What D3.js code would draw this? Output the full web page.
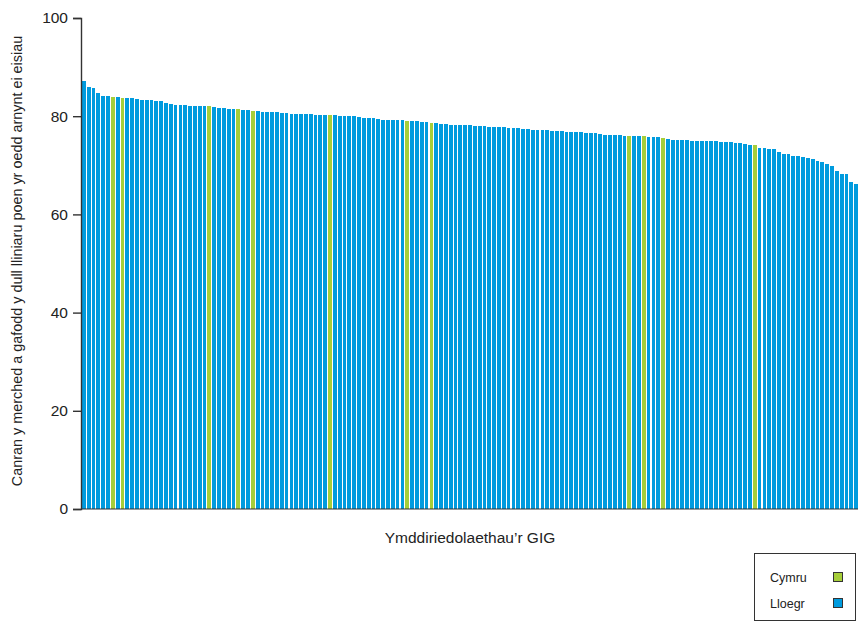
<!DOCTYPE html>
<html>
<head>
<meta charset="utf-8">
<script src="https://cdn.jsdelivr.net/npm/d3@7"></script>
<style>
  html, body { margin: 0; padding: 0; background: #fff; }
  svg { display: block; font-family: "Liberation Sans", Arial, sans-serif; }
</style>
</head>
<body>
<svg id="chart" width="858" height="622"></svg>
<script>
// Percentage of women who received the pain relief method they wanted, per NHS trust (sorted)
const values = [
  87.2, 85.9, 85.7, 84.7, 84.1, 84.1, 83.9, 83.9, 83.7, 83.7,
  83.7, 83.5, 83.3, 83.3, 83.3, 83.1, 83.1, 82.7, 82.5, 82.3,
  82.3, 82.3, 82.1, 82.1, 82.1, 82.1, 82.1, 81.9, 81.7, 81.7,
  81.5, 81.5, 81.5, 81.3, 81.3, 81.1, 81.1, 80.9, 80.9, 80.9,
  80.9, 80.7, 80.7, 80.4, 80.4, 80.4, 80.4, 80.4, 80.2, 80.2,
  80.2, 80.2, 80.2, 80.0, 80.0, 80.0, 80.0, 79.8, 79.6, 79.6,
  79.6, 79.4, 79.2, 79.2, 79.2, 79.2, 79.2, 79.0, 79.0, 79.0,
  78.8, 78.8, 78.6, 78.6, 78.4, 78.4, 78.2, 78.2, 78.2, 78.2,
  78.2, 78.0, 78.0, 78.0, 77.8, 77.8, 77.8, 77.8, 77.6, 77.6,
  77.6, 77.4, 77.4, 77.2, 77.2, 77.2, 77.2, 77.0, 77.0, 77.0,
  76.8, 76.8, 76.8, 76.8, 76.6, 76.6, 76.6, 76.4, 76.2, 76.2,
  76.2, 76.2, 76.0, 76.0, 76.0, 76.0, 76.0, 75.8, 75.8, 75.8,
  75.6, 75.4, 75.2, 75.2, 75.2, 75.2, 75.0, 75.0, 75.0, 75.0,
  75.0, 75.0, 74.7, 74.7, 74.7, 74.5, 74.5, 74.3, 74.1, 74.1,
  73.5, 73.5, 73.3, 73.3, 72.7, 72.3, 72.3, 71.9, 71.9, 71.7,
  71.5, 71.3, 70.9, 70.7, 70.3, 69.9, 68.8, 68.2, 68.2, 66.6,
  66.2
];
// Positions (in sorted order) of the Welsh trusts; all others are English
const walesIdx = [6, 8, 26, 32, 35, 51, 67, 72, 113, 116, 120, 139];
const yTicks = [0, 20, 40, 60, 80, 100];
const countries = ["Cymru", "Lloegr"];
const countryColours = ["#a6ce39", "#009bde"];
const yTitle = "Canran y merched a gafodd y dull lliniaru poen yr oedd arnynt ei eisiau";
const xTitle = "Ymddiriedolaethau\u2019r GIG";

const bars = values.map((v, i) => ({
  i, v, country: walesIdx.includes(i) ? "Cymru" : "Lloegr"
}));

const svg = d3.select("#chart");
const plot = { left: 81, top: 18, bottom: 509, right: 858 };

const x = d3.scaleBand().domain(d3.range(values.length))
  .range([plot.left + 1, plot.right]).paddingInner(0.22).paddingOuter(0);
const y = d3.scaleLinear().domain([0, 100]).range([plot.bottom, plot.top]);
const colour = d3.scaleOrdinal().domain(countries).range(countryColours);

svg.append("g").attr("shape-rendering", "crispEdges")
  .selectAll("rect").data(bars).join("rect")
  .attr("x", d => x(d.i))
  .attr("width", x.bandwidth())
  .attr("y", d => y(d.v))
  .attr("height", d => y(0) - y(d.v))
  .attr("fill", d => colour(d.country));

// Baseline
svg.append("line")
  .attr("x1", plot.left).attr("x2", plot.right)
  .attr("y1", y(0)).attr("y2", y(0))
  .attr("stroke", "#333").attr("stroke-width", 1.2);

// Y axis
const yAxis = svg.append("g")
  .attr("transform", `translate(${plot.left},0)`)
  .call(d3.axisLeft(y).tickValues(yTicks).tickSize(8).tickPadding(5));
yAxis.select(".domain").attr("stroke", "#333").attr("stroke-width", 1.4);
yAxis.selectAll(".tick line").attr("stroke", "#333").attr("stroke-width", 1.4);
yAxis.selectAll(".tick text")
  .attr("font-size", 15.5).attr("fill", "#222")
  .attr("font-family", "'Liberation Sans', Arial, sans-serif");

// Axis titles
svg.append("text")
  .attr("transform", `translate(22,261) rotate(-90)`)
  .attr("text-anchor", "middle")
  .attr("font-size", 14.4).attr("fill", "#222")
  .text(yTitle);

svg.append("text")
  .attr("x", 470).attr("y", 543)
  .attr("text-anchor", "middle")
  .attr("font-size", 15.5).attr("fill", "#222")
  .text(xTitle);

// Legend
const lg = svg.append("g");
lg.append("rect")
  .attr("x", 754.5).attr("y", 553.5).attr("width", 101).attr("height", 67)
  .attr("fill", "#fff").attr("stroke", "#333").attr("stroke-width", 1);
countries.forEach((c, k) => {
  const cy = 577 + k * 26;
  lg.append("text").attr("x", 770).attr("y", cy + 4.5)
    .attr("font-size", 12.5).attr("fill", "#222").text(c);
  lg.append("rect").attr("x", 833.5).attr("y", cy - 4.5)
    .attr("width", 9).attr("height", 9)
    .attr("fill", colour(c)).attr("stroke", "#333").attr("stroke-width", 1);
});
</script>
</body>
</html>
